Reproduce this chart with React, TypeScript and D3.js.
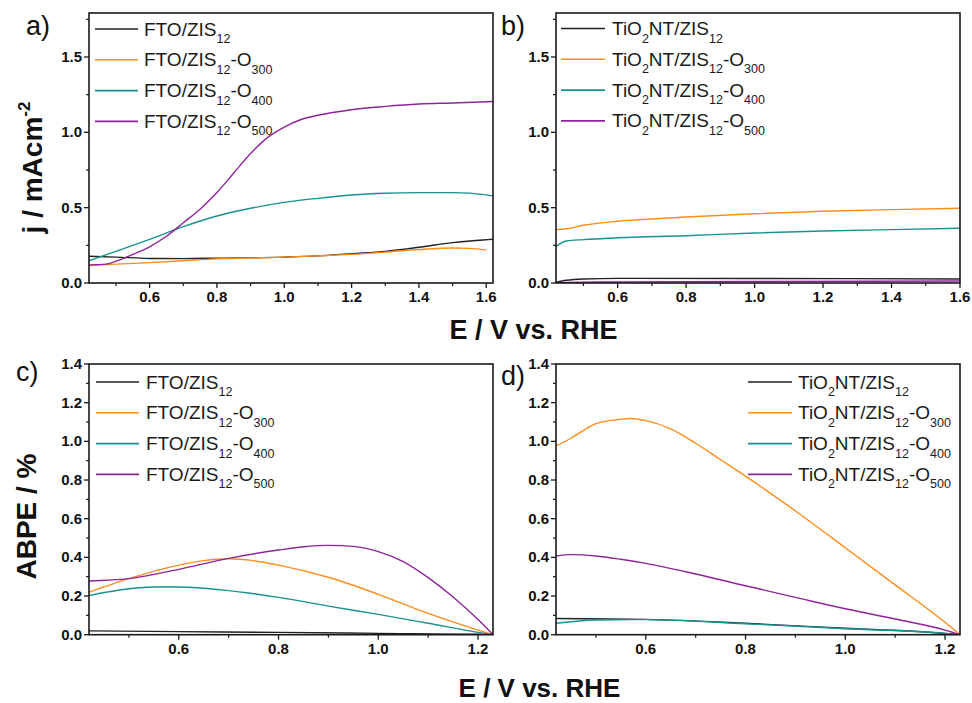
import React from "react";
import * as d3 from "d3";

type Pt = [number, number];

// ---------- data ----------
const seriesNames = ["bare", "O300", "O400", "O500"];
const seriesColors = ["#222222", "#ff8c1a", "#17928f", "#8e249a"];

// panel a: FTO photocurrent
const ftoJBare: Pt[] = [[0.42, 0.178], [0.5, 0.172], [0.6, 0.163], [0.7, 0.162], [0.8, 0.165], [1.0, 0.172], [1.1, 0.18], [1.2, 0.195], [1.3, 0.21], [1.4, 0.237], [1.5, 0.268], [1.6, 0.287], [1.62, 0.29]];
const ftoJ300: Pt[] = [[0.42, 0.115], [0.5, 0.125], [0.6, 0.135], [0.7, 0.148], [0.8, 0.16], [0.9, 0.166], [1.0, 0.172], [1.1, 0.18], [1.2, 0.19], [1.3, 0.205], [1.4, 0.222], [1.5, 0.232], [1.55, 0.23], [1.6, 0.22]];
const ftoJ400: Pt[] = [[0.42, 0.148], [0.5, 0.21], [0.6, 0.29], [0.7, 0.374], [0.8, 0.445], [0.9, 0.496], [1.0, 0.535], [1.1, 0.562], [1.2, 0.584], [1.3, 0.596], [1.4, 0.6], [1.5, 0.6], [1.6, 0.585], [1.62, 0.578]];
const ftoJ500: Pt[] = [[0.42, 0.12], [0.47, 0.125], [0.5, 0.145], [0.55, 0.19], [0.6, 0.24], [0.65, 0.31], [0.7, 0.4], [0.75, 0.49], [0.8, 0.6], [0.85, 0.73], [0.9, 0.86], [0.95, 0.965], [1.0, 1.035], [1.05, 1.085], [1.1, 1.113], [1.2, 1.15], [1.3, 1.172], [1.4, 1.188], [1.5, 1.195], [1.62, 1.205]];

// panel b: TiO2NT photocurrent
const tiJBare: Pt[] = [[0.42, 0.005], [0.45, 0.018], [0.5, 0.027], [0.6, 0.031], [1.0, 0.03], [1.6, 0.027]];
const tiJ300: Pt[] = [[0.42, 0.354], [0.45, 0.36], [0.5, 0.383], [0.6, 0.41], [0.7, 0.425], [0.8, 0.438], [1.0, 0.46], [1.2, 0.476], [1.4, 0.487], [1.6, 0.496]];
const tiJ400: Pt[] = [[0.42, 0.243], [0.45, 0.279], [0.5, 0.288], [0.6, 0.3], [0.8, 0.314], [1.0, 0.332], [1.2, 0.345], [1.4, 0.354], [1.6, 0.363]];
const tiJ500: Pt[] = [[0.42, 0.0], [0.45, 0.004], [0.6, 0.007], [1.0, 0.01], [1.6, 0.013]];

// panel c: FTO ABPE
const ftoABare: Pt[] = [[0.42, 0.02], [0.6, 0.016], [0.8, 0.012], [1.0, 0.007], [1.2, 0.002], [1.23, 0]];
const ftoA300: Pt[] = [[0.42, 0.22], [0.5, 0.29], [0.6, 0.36], [0.65, 0.383], [0.7, 0.393], [0.75, 0.383], [0.8, 0.36], [0.9, 0.297], [1.0, 0.209], [1.1, 0.11], [1.2, 0.024], [1.23, 0]];
const ftoA400: Pt[] = [[0.42, 0.203], [0.5, 0.238], [0.55, 0.247], [0.6, 0.247], [0.7, 0.228], [0.8, 0.193], [0.9, 0.148], [1.0, 0.105], [1.1, 0.059], [1.2, 0.012], [1.23, 0]];
const ftoA500: Pt[] = [[0.42, 0.278], [0.5, 0.29], [0.6, 0.338], [0.7, 0.395], [0.8, 0.438], [0.85, 0.455], [0.9, 0.462], [0.95, 0.457], [1.0, 0.43], [1.05, 0.378], [1.1, 0.295], [1.15, 0.195], [1.2, 0.078], [1.23, 0]];

// panel d: TiO2NT ABPE
const tiABare: Pt[] = [[0.42, 0.084], [0.6, 0.079], [0.8, 0.059], [1.0, 0.033], [1.2, 0.007], [1.23, 0]];
const tiA300: Pt[] = [[0.42, 0.976], [0.45, 1.016], [0.48, 1.065], [0.5, 1.092], [0.55, 1.114], [0.57, 1.118], [0.6, 1.107], [0.65, 1.065], [0.7, 0.99], [0.75, 0.905], [0.8, 0.82], [0.9, 0.64], [1.0, 0.45], [1.1, 0.258], [1.2, 0.064], [1.23, 0]];
const tiA400: Pt[] = [[0.42, 0.059], [0.5, 0.076], [0.6, 0.078], [0.8, 0.057], [1.0, 0.031], [1.2, 0.007], [1.23, 0]];
const tiA500: Pt[] = [[0.42, 0.407], [0.45, 0.414], [0.5, 0.407], [0.55, 0.39], [0.6, 0.369], [0.7, 0.314], [0.8, 0.253], [0.9, 0.193], [1.0, 0.134], [1.1, 0.081], [1.2, 0.024], [1.23, 0]];

// ticks
const jXMajor = [0.6, 0.8, 1.0, 1.2, 1.4, 1.6];
const jXMinor = [0.5, 0.7, 0.9, 1.1, 1.3, 1.5];
const jYMajor = [0.0, 0.5, 1.0, 1.5];
const jYMinor = [0.25, 0.75, 1.25, 1.75];
const aXMajor = [0.6, 0.8, 1.0, 1.2];
const aXMinor = [0.5, 0.7, 0.9, 1.1];
const aYMajor = [0.0, 0.2, 0.4, 0.6, 0.8, 1.0, 1.2, 1.4];
const aYMinor = [0.1, 0.3, 0.5, 0.7, 0.9, 1.1, 1.3];

// legend label pieces: [text, isSub]
const ftoLabels: [string, boolean][][] = [
  [["FTO/ZIS", false], ["12", true]],
  [["FTO/ZIS", false], ["12", true], ["-O", false], ["300", true]],
  [["FTO/ZIS", false], ["12", true], ["-O", false], ["400", true]],
  [["FTO/ZIS", false], ["12", true], ["-O", false], ["500", true]],
];
const tiLabels: [string, boolean][][] = [
  [["TiO", false], ["2", true], ["NT/ZIS", false], ["12", true]],
  [["TiO", false], ["2", true], ["NT/ZIS", false], ["12", true], ["-O", false], ["300", true]],
  [["TiO", false], ["2", true], ["NT/ZIS", false], ["12", true], ["-O", false], ["400", true]],
  [["TiO", false], ["2", true], ["NT/ZIS", false], ["12", true], ["-O", false], ["500", true]],
];

const FONT = "'Liberation Sans', Arial, Helvetica, sans-serif";
const fmt = d3.format(".1f");

interface PanelProps {
  box: { x0: number; x1: number; y0: number; y1: number };
  xDomain: [number, number];
  yDomain: [number, number];
  xMajor: number[];
  xMinor: number[];
  yMajor: number[];
  yMinor: number[];
  series: Pt[][];
  labels: [string, boolean][][];
  legend: { lx0: number; lx1: number; tx: number; y: number; dy: number };
  letter: string;
  letterPos: [number, number];
}

function Panel(p: PanelProps) {
  const { box } = p;
  const x = d3.scaleLinear().domain(p.xDomain).range([box.x0, box.x1]);
  const y = d3.scaleLinear().domain(p.yDomain).range([box.y1, box.y0]);
  const line = d3
    .line<Pt>()
    .x((d) => x(d[0]))
    .y((d) => y(d[1]))
    .curve(d3.curveMonotoneX);
  const clipId = "clip-" + p.letter.replace(")", "");
  return (
    <g>
      <defs>
        <clipPath id={clipId}>
          <rect x={box.x0} y={box.y0} width={box.x1 - box.x0} height={box.y1 - box.y0} />
        </clipPath>
      </defs>
      <g clipPath={`url(#${clipId})`}>
        {p.series.map((s, i) => (
          <path key={i} d={line(s) || ""} fill="none" stroke={seriesColors[i]} strokeWidth={1.4} />
        ))}
      </g>
      {/* frame */}
      <rect x={box.x0} y={box.y0} width={box.x1 - box.x0} height={box.y1 - box.y0} fill="none" stroke="#1a1a1a" strokeWidth={1.6} />
      {/* x ticks */}
      {p.xMajor.map((v) => (
        <g key={"xm" + v}>
          <line x1={x(v)} x2={x(v)} y1={box.y1} y2={box.y1 + 5} stroke="#1a1a1a" strokeWidth={1.3} />
          <text x={x(v)} y={box.y1 + 19} textAnchor="middle" fontFamily={FONT} fontWeight="bold" fontSize={15} fill="#111">
            {fmt(v)}
          </text>
        </g>
      ))}
      {p.xMinor.map((v) => (
        <line key={"xn" + v} x1={x(v)} x2={x(v)} y1={box.y1} y2={box.y1 + 3} stroke="#1a1a1a" strokeWidth={1.2} />
      ))}
      {/* y ticks */}
      {p.yMajor.map((v) => (
        <g key={"ym" + v}>
          <line x1={box.x0 - 5} x2={box.x0} y1={y(v)} y2={y(v)} stroke="#1a1a1a" strokeWidth={1.3} />
          <text x={box.x0 - 7} y={y(v) + 5} textAnchor="end" fontFamily={FONT} fontWeight="bold" fontSize={15} fill="#111">
            {fmt(v)}
          </text>
        </g>
      ))}
      {p.yMinor.map((v) => (
        <line key={"yn" + v} x1={box.x0 - 3} x2={box.x0} y1={y(v)} y2={y(v)} stroke="#1a1a1a" strokeWidth={1.2} />
      ))}
      {/* legend */}
      {p.labels.map((parts, i) => {
        const ly = p.legend.y + i * p.legend.dy;
        let prevSub = false;
        return (
          <g key={"lg" + i}>
            <line x1={p.legend.lx0} x2={p.legend.lx1} y1={ly} y2={ly} stroke={seriesColors[i]} strokeWidth={1.6} />
            <text x={p.legend.tx} y={ly + 6.5} fontFamily={FONT} fontSize={19} fill="#1a1a1a">
              {parts.map(([t, sub], k) => {
                let dy = 0;
                if (sub && !prevSub) dy = 7.5;
                if (!sub && prevSub) dy = -7.5;
                prevSub = sub;
                return (
                  <tspan key={k} dy={dy} fontSize={sub ? 12.5 : 19}>
                    {t}
                  </tspan>
                );
              })}
            </text>
          </g>
        );
      })}
      <text x={p.letterPos[0]} y={p.letterPos[1]} fontFamily={FONT} fontSize={27} fill="#111">
        {p.letter}
      </text>
    </g>
  );
}

export default function App() {
  const top = { y0: 13, y1: 283 };
  const bot = { y0: 364, y1: 634.7 };
  const left = { x0: 89, x1: 493 };
  const right = { x0: 556, x1: 960 };
  return (
    <svg width={972} height={703} style={{ position: "absolute", left: 0, top: 0, background: "#fff" }}>
      <rect width={972} height={703} fill="#fff" />
      <Panel
        box={{ ...left, ...top }}
        xDomain={[0.42, 1.62]}
        yDomain={[0, 1.792]}
        xMajor={jXMajor}
        xMinor={jXMinor}
        yMajor={jYMajor}
        yMinor={jYMinor}
        series={[ftoJBare, ftoJ300, ftoJ400, ftoJ500]}
        labels={ftoLabels}
        legend={{ lx0: 95, lx1: 138, tx: 144, y: 29, dy: 30.8 }}
        letter="a)"
        letterPos={[26, 35]}
      />
      <Panel
        box={{ ...right, ...top }}
        xDomain={[0.42, 1.6]}
        yDomain={[0, 1.792]}
        xMajor={jXMajor}
        xMinor={jXMinor}
        yMajor={jYMajor}
        yMinor={jYMinor}
        series={[tiJBare, tiJ300, tiJ400, tiJ500]}
        labels={tiLabels}
        legend={{ lx0: 561, lx1: 605, tx: 612, y: 28.5, dy: 30.8 }}
        letter="b)"
        letterPos={[501, 35]}
      />
      <Panel
        box={{ ...left, ...bot }}
        xDomain={[0.42, 1.23]}
        yDomain={[0, 1.4]}
        xMajor={aXMajor}
        xMinor={aXMinor}
        yMajor={aYMajor}
        yMinor={aYMinor}
        series={[ftoABare, ftoA300, ftoA400, ftoA500]}
        labels={ftoLabels}
        legend={{ lx0: 96, lx1: 139, tx: 146, y: 382, dy: 30.8 }}
        letter="c)"
        letterPos={[16, 381]}
      />
      <Panel
        box={{ ...right, ...bot }}
        xDomain={[0.42, 1.23]}
        yDomain={[0, 1.4]}
        xMajor={aXMajor}
        xMinor={aXMinor}
        yMajor={aYMajor}
        yMinor={aYMinor}
        series={[tiABare, tiA300, tiA400, tiA500]}
        labels={tiLabels}
        legend={{ lx0: 748, lx1: 792, tx: 798, y: 382, dy: 30.8 }}
        letter="d)"
        letterPos={[501, 385]}
      />
      {/* axis titles */}
      <text x={533.5} y={339} textAnchor="middle" fontFamily={FONT} fontWeight="bold" fontSize={27} fill="#111">
        E / V vs. RHE
      </text>
      <text x={539.5} y={697} textAnchor="middle" fontFamily={FONT} fontWeight="bold" fontSize={26} fill="#111">
        E / V vs. RHE
      </text>
      <text transform="translate(42,167.5) rotate(-90)" textAnchor="middle" fontFamily={FONT} fontWeight="bold" fontSize={28} fill="#111">
        j / mAcm
        <tspan dy={-12} fontSize={17}>-2</tspan>
      </text>
      <text transform="translate(36,516.5) rotate(-90)" textAnchor="middle" fontFamily={FONT} fontWeight="bold" fontSize={28} fill="#111">
        ABPE / %
      </text>
    </svg>
  );
}
